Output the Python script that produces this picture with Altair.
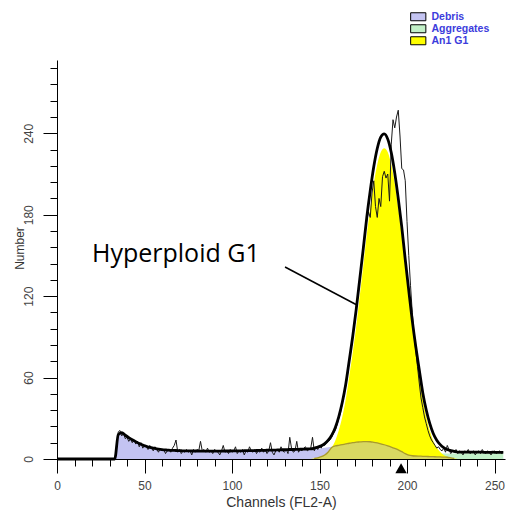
import altair as alt
import pandas as pd

# ---- fitted model components (odd channels 33..255) ----
FIT_CHANNELS = list(range(33, 256, 2))
DEBRIS = [0.0,
          18.0, 19.5, 17.5, 15.8, 14.2, 12.8, 11.5, 10.3, 9.4, 8.6,
          8.0, 7.5, 7.1, 6.8, 6.6, 6.4, 6.3, 6.2, 6.1,
          6.0, 6.0, 5.9, 5.9, 5.9, 5.8, 5.8, 5.8, 5.8,
          5.8, 5.8, 5.9, 5.9, 5.9, 6.0, 6.0, 6.0, 6.1, 6.1,
          6.2, 6.2, 6.3, 6.3, 6.4, 6.5, 6.5, 6.6, 6.7, 6.8, 6.9, 7.0, 7.0, 7.1, 7.2,
          7.3, 7.4, 7.5, 7.6, 7.8, 8.0, 8.3, 8.7, 9.1, 9.6,
          10.1, 10.6, 11.1, 11.6, 12.0, 12.4, 12.6, 12.8, 12.8, 12.7,
          12.3, 11.8, 11.2, 10.5, 9.7, 8.8, 7.8, 6.7, 5.4, 4.0,
          2.9, 2.4, 2.2, 2.1, 2.0, 1.9, 1.8, 1.7, 1.6, 1.5,
          1.4, 1.3, 1.2, 1.1, 1.0, 0.9, 0.9, 0.8, 0.8, 0.7, 0.7, 0.7,
          0.6, 0.6, 0.6, 0.5, 0.5, 0.5]

G1_START = 147
G1 = [0.4, 0.9, 1.7, 3.0, 5.2, 8.5, 13.5, 21, 31, 44,
      61, 78.5, 98, 120, 142, 165, 185, 203, 217, 226,
      229,
      226, 217, 203, 185, 165, 142, 120, 98, 78.5, 61,
      44, 31, 21, 13.5, 8.5, 5.2, 3.0, 1.7, 0.9, 0.4]

AGG_START = 193
AGGREGATES = [0.0, 0.3, 0.6, 1.0, 1.4, 1.8, 2.2, 2.6, 2.9, 3.2,
              3.4, 3.6, 3.8, 3.9, 4.0, 4.0, 4.1, 4.1, 4.1, 4.2,
              4.2, 4.2, 4.2, 4.3, 4.3, 4.3, 4.3, 4.3, 4.4, 4.4,
              4.4, 4.4]

# ---- measured histogram, channels 34..255 (0 below) ----
RAW_START = 34
RAW = [8, 20, 21, 17, 19, 15,
       16, 13, 15, 12, 14, 11, 13, 9, 12, 8,
       10, 9, 7, 10, 8, 6, 9, 7, 5, 8,
       6, 7, 4, 6, 7, 5, 8, 10, 14, 5,
       7, 4, 6, 5, 7, 5, 6, 3, 7, 5,
       7, 6, 13, 6, 7, 5, 8, 5, 6, 4,
       7, 6, 5, 3, 6, 10, 5, 6, 4, 7,
       5, 6, 9, 4, 6, 5, 7, 3, 6, 5,
       9, 6, 5, 7, 4, 6, 5, 8, 5, 7,
       4, 6, 12, 5, 3, 6, 7, 5, 9, 6,
       5, 7, 4, 16, 8, 5, 6, 13, 5, 7,
       6, 8, 9, 6, 7, 8, 16, 6, 9, 7,
       10, 8, 11, 10, 12, 13, 14, 16, 19, 21,
       25, 30, 34, 41, 47, 54, 62, 72, 80, 90,
       99, 112, 120, 131, 144, 156, 166, 176, 182, 178,
       196, 205, 186, 178, 192, 186, 208, 212, 207, 210,
       190, 232, 250, 244, 252, 257, 238, 214, 213, 205,
       175, 150, 128, 108, 92, 80, 68, 56, 45, 38,
       31, 26, 21, 17, 14, 12, 10, 8, 9, 7,
       6, 8, 5, 10, 7, 4, 6, 5, 7, 4,
       6, 5, 3, 6, 5, 7, 4, 5, 6, 3,
       5, 6, 4, 7, 5, 4, 6, 5, 3, 5,
       6, 4, 5, 6, 4, 5]

LEGEND_NAMES = ["Debris", "Aggregates", "An1 G1"]
LEGEND_COLORS = ["#c4c4f2", "#c2f0c8", "#ffff00"]
X_TICKS = [0, 10, 20, 30, 40, 50, 60, 70, 80, 90, 100, 110, 120, 130, 140,
           150, 160, 170, 180, 190, 200, 210, 220, 230, 240, 250]
Y_TICKS = [0, 12, 24, 36, 48, 60, 72, 84, 96, 108, 120, 132, 144, 156, 168,
           180, 192, 204, 216, 228, 240, 252, 264, 276, 288]

# ---- tables ----
fit_rows = [{"channel": 0, "debris": 0.0, "g1": 0.0, "agg": 0.0}]
for i, ch in enumerate(FIT_CHANNELS):
    g = G1[(ch - G1_START) // 2] if G1_START <= ch < G1_START + 2 * len(G1) else 0.0
    a = AGGREGATES[(ch - AGG_START) // 2] if ch >= AGG_START else 0.0
    fit_rows.append({"channel": ch, "debris": DEBRIS[i], "g1": g, "agg": a})
fit_df = pd.DataFrame(fit_rows)

raw_df = pd.DataFrame({
    "channel": list(range(0, RAW_START)) + list(range(RAW_START, RAW_START + len(RAW))),
    "count": [0] * RAW_START + RAW,
})

label_df = pd.DataFrame({"channel": [20], "count": [145.2], "text": ["Hyperploid G1"]})
pointer_df = pd.DataFrame({"channel": [130.3], "count": [141.5],
                           "channel2": [171.4], "count2": [113.5]})
marker_df = pd.DataFrame({"channel": [196.6], "count": [-6.8]})

# ---- scales and axes ----
XS = alt.Scale(domain=[0, 256], nice=False, zero=False)
YS = alt.Scale(domain=[0, 294], nice=False, zero=False)

AXIS_FONT = "Liberation Sans"
XA = alt.Axis(
    values=X_TICKS,
    labelExpr="datum.value % 50 === 0 ? datum.label : ''",
    tickSize={"condition": {"test": "datum.value % 50 === 0", "value": 14}, "value": 7},
    labelPadding=7, labelFont=AXIS_FONT, labelFontSize=12, labelColor="#444444",
    labelOverlap=False, labelFlush=False,
    domainColor="black", tickColor="black", domainWidth=1, tickWidth=1,
    titleFont=AXIS_FONT, titleFontSize=14, titleColor="#333333", titleFontWeight="normal",
    titleBaseline="alphabetic", titleY=47, grid=False,
)
YA = alt.Axis(
    values=Y_TICKS,
    labelExpr="datum.value % 60 === 0 ? datum.label : ''",
    tickSize={"condition": {"test": "datum.value % 60 === 0", "value": 14}, "value": 7},
    labelAngle=270, labelAlign="center", labelBaseline="bottom",
    labelPadding=8, labelFont=AXIS_FONT, labelFontSize=12, labelColor="#444444",
    labelOverlap=False, labelFlush=False,
    domainColor="black", tickColor="black", domainWidth=1, tickWidth=1,
    titleFont=AXIS_FONT, titleFontSize=12, titleColor="#333333", titleFontWeight="normal",
    titleAngle=270, titleAlign="center", titleBaseline="alphabetic",
    titleX=-34, titleY=188, grid=False,
)


def xenc(field="channel"):
    return alt.X(field, type="quantitative", scale=XS, axis=XA, title="Channels (FL2-A)")


def yenc(field="count"):
    return alt.Y(field, type="quantitative", scale=YS, axis=YA, title="Number")


COLOR_SCALE = alt.Scale(domain=LEGEND_NAMES, range=LEGEND_COLORS)
LEGEND = alt.Legend(
    orient="none", legendX=356, legendY=-48.5, title=None,
    symbolType="M-1.9,-1H1.9V1H-1.9Z", symbolSize=64,
    symbolStrokeColor="black", symbolStrokeWidth=1, symbolOpacity=1,
    labelFont=AXIS_FONT, labelFontSize=10.5, labelFontWeight="bold",
    labelColor="#3c3cdc", labelOffset=8, rowPadding=-3.5, padding=0,
)


def component(field, name):
    return alt.Chart(fit_df).transform_calculate(
        component=f"'{name}'"
    ).mark_area(interpolate="monotone").encode(
        x=xenc(), y=yenc(field),
        fill=alt.Fill("component:N", scale=COLOR_SCALE, legend=LEGEND),
    )


debris_area = component("debris", "Debris")
agg_area = component("agg", "Aggregates")
g1_area = component("g1", "An1 G1")

overlap = alt.Chart(fit_df).transform_filter("datum.g1 > 0").transform_calculate(
    both="min(datum.debris, datum.g1)"
)
overlap_area = overlap.mark_area(interpolate="monotone", color="#d8d862").encode(
    x=xenc(), y=yenc("both")
)
overlap_edge = overlap.mark_line(interpolate="monotone", color="#a89a2c", strokeWidth=1.3).encode(
    x=xenc(), y=yenc("both")
)

raw_line = alt.Chart(raw_df).mark_line(color="#1a1a1a", strokeWidth=1).encode(
    x=xenc(), y=yenc("count")
)

fit_line = alt.Chart(fit_df).transform_calculate(
    total="datum.debris + datum.g1 + datum.agg"
).mark_line(interpolate="monotone", color="black", strokeWidth=2.8).encode(
    x=xenc(), y=yenc("total")
)

marker = alt.Chart(marker_df).mark_point(
    shape="triangle-up", filled=True, color="black", size=130, opacity=1
).encode(x=xenc(), y=yenc())

pointer = alt.Chart(pointer_df).mark_rule(color="black", strokeWidth=1.5).encode(
    x=xenc(), y=yenc(), x2="channel2", y2="count2"
)

label = alt.Chart(label_df).mark_text(
    align="left", baseline="alphabetic", font="Open Sans", fontSize=25, color="black"
).encode(x=xenc(), y=yenc(), text="text")

chart = alt.layer(
    debris_area, agg_area, g1_area, overlap_area, overlap_edge,
    raw_line, fit_line, marker, pointer, label,
).properties(
    width=448, height=399,
    autosize=alt.AutoSizeParams(type="none"),
    padding={"left": 57, "top": 60, "right": 2, "bottom": 52},
    background="white",
).configure_view(stroke=None)

chart.save("out.html", embed_options={"renderer": "svg", "actions": False})
